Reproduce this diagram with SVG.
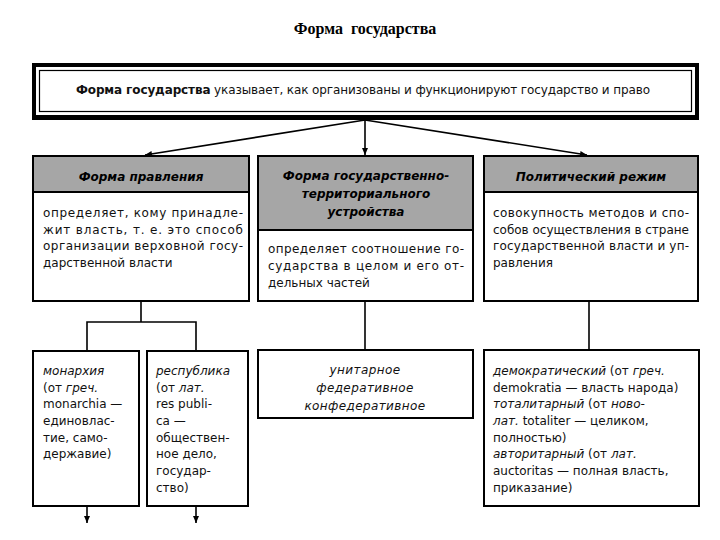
<svg xmlns="http://www.w3.org/2000/svg" width="720" height="540" viewBox="0 0 720 540">
<defs>
<marker id="ah" markerWidth="8" markerHeight="8" refX="7" refY="4" orient="auto" markerUnits="userSpaceOnUse">
<path d="M0,1 L7,4 L0,7 Z" fill="#000"/>
</marker>
<style>
.box{fill:#fff;stroke:#000;stroke-width:2}
.hdr{fill:#a6a6a6;stroke:#000;stroke-width:2}
.t{font-family:"DejaVu Sans",sans-serif;font-size:12px;fill:#111}
.h{font-family:"DejaVu Sans",sans-serif;font-size:12px;font-weight:bold;font-style:italic;fill:#000}
.i{font-style:italic}
.c{text-anchor:middle}
.ln{fill:none;stroke:#000;stroke-width:1.6}
</style>
</defs>
<rect width="720" height="540" fill="#fff"/>
<text x="365" y="34" text-anchor="middle" font-family="Liberation Serif, serif" font-size="16" font-weight="bold" word-spacing="4">Форма государства</text>

<g id="top">
<rect x="32" y="63" width="667" height="57" fill="#000"/>
<rect x="36" y="67" width="659" height="48" fill="#fff"/>
<rect x="39.5" y="70.5" width="652" height="41" fill="none" stroke="#000" stroke-width="1.2"/>
<text class="t" x="76" y="94" textLength="574" lengthAdjust="spacing"><tspan font-weight="bold">Форма государства</tspan> указывает, как организованы и функционируют государство и право</text>
</g>

<g id="connectors">
<path class="ln" d="M365,120 L145,155" marker-end="url(#ah)"/>
<path class="ln" d="M365,120 L365,155" marker-end="url(#ah)"/>
<path class="ln" d="M365,120 L587,155" marker-end="url(#ah)"/>
<path class="ln" d="M141,301 V322 M87,322 H196 M87,321.2 V351 M196,321.2 V351"/>
<path class="ln" d="M87,506 V523" marker-end="url(#ah)"/>
<path class="ln" d="M196,506 V523" marker-end="url(#ah)"/>
<path class="ln" d="M365,301 V350"/>
<path class="ln" d="M589,301 V350"/>
</g>

<g id="forma-pravleniya">
<rect class="box" x="33" y="156" width="216" height="145"/>
<rect class="hdr" x="33" y="156" width="216" height="36"/>
<text class="h c" x="141" y="181">Форма правления</text>
<text class="t" x="43" y="217" textLength="200" lengthAdjust="spacing">определяет, кому принадле-</text>
<text class="t" x="43" y="233.5" textLength="200" lengthAdjust="spacing">жит власть, т. е. это способ</text>
<text class="t" x="43" y="250" textLength="200" lengthAdjust="spacing">организации верховной госу-</text>
<text class="t" x="43" y="266.5">дарственной власти</text>
</g>

<g id="forma-ustroystva">
<rect class="box" x="258" y="156" width="215" height="145"/>
<rect class="hdr" x="258" y="156" width="215" height="74"/>
<text class="h c" x="366" y="180">Форма государственно-</text>
<text class="h c" x="366" y="198">территориального</text>
<text class="h c" x="366" y="216">устройства</text>
<text class="t" x="268" y="253" textLength="196" lengthAdjust="spacing">определяет соотношение го-</text>
<text class="t" x="268" y="270" textLength="196" lengthAdjust="spacing">сударства в целом и его от-</text>
<text class="t" x="268" y="287">дельных частей</text>
</g>

<g id="politicheskiy-rezhim">
<rect class="box" x="484" y="156" width="214" height="145"/>
<rect class="hdr" x="484" y="156" width="214" height="36"/>
<text class="h c" x="591" y="181">Политический режим</text>
<text class="t" x="493" y="217" textLength="196" lengthAdjust="spacing">совокупность методов и спо-</text>
<text class="t" x="493" y="233.5" textLength="196" lengthAdjust="spacing">собов осуществления в стране</text>
<text class="t" x="493" y="250" textLength="196" lengthAdjust="spacing">государственной власти и уп-</text>
<text class="t" x="493" y="266.5">равления</text>
</g>

<g id="monarhiya">
<rect class="box" x="33" y="351" width="106" height="155"/>
<text class="t" x="43" y="375"><tspan class="i">монархия</tspan></text>
<text class="t" x="43" y="392">(от <tspan class="i">греч.</tspan></text>
<text class="t" x="43" y="408">monarchia —</text>
<text class="t" x="43" y="425">единовлас-</text>
<text class="t" x="43" y="442">тие, само-</text>
<text class="t" x="43" y="458">державие)</text>
</g>

<g id="respublika">
<rect class="box" x="147" y="351" width="101" height="155"/>
<text class="t" x="156" y="375"><tspan class="i">республика</tspan></text>
<text class="t" x="156" y="392">(от <tspan class="i">лат.</tspan></text>
<text class="t" x="156" y="408">res publi-</text>
<text class="t" x="156" y="425">ca —</text>
<text class="t" x="156" y="442">обществен-</text>
<text class="t" x="156" y="458">ное дело,</text>
<text class="t" x="156" y="475">государ-</text>
<text class="t" x="156" y="492">ство)</text>
</g>

<g id="vidy-ustroystva">
<rect class="box" x="258" y="350" width="215" height="68"/>
<text class="t c i" x="365" y="374" letter-spacing="0.4">унитарное</text>
<text class="t c i" x="365" y="392" letter-spacing="0.4">федеративное</text>
<text class="t c i" x="365" y="410" letter-spacing="0.4">конфедеративное</text>
</g>

<g id="vidy-rezhima">
<rect class="box" x="484" y="350" width="215" height="156"/>
<text class="t" x="493" y="375"><tspan class="i">демократический</tspan> (от <tspan class="i">греч.</tspan></text>
<text class="t" x="493" y="392">demokratia — власть народа)</text>
<text class="t" x="493" y="408"><tspan class="i">тоталитарный</tspan> (от <tspan class="i">ново-</tspan></text>
<text class="t" x="493" y="425"><tspan class="i">лат.</tspan> totaliter — целиком,</text>
<text class="t" x="493" y="442">полностью)</text>
<text class="t" x="493" y="458"><tspan class="i">авторитарный</tspan> (от <tspan class="i">лат.</tspan></text>
<text class="t" x="493" y="475">auctoritas — полная власть,</text>
<text class="t" x="493" y="492">приказание)</text>
</g>
</svg>
